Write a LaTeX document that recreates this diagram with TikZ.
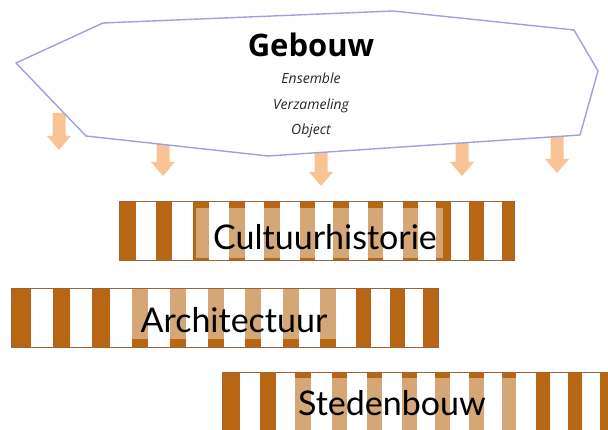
\documentclass[tikz,border=0pt]{standalone}
\usepackage{fontspec}
\setmainfont{Lato}
\newfontfamily\topfont{Open Sans}
\definecolor{stripebrown}{RGB}{184,102,20}
\definecolor{barborder}{RGB}{150,100,60}
\definecolor{peach}{RGB}{248,196,150}
\definecolor{lavender}{RGB}{160,160,225}
\definecolor{itgray}{RGB}{40,40,40}
\tikzset{
  darkstripe/.style={fill=stripebrown},
  overlaybox/.style={fill=white,fill opacity=0.42},
  barframe/.style={draw=barborder,line width=0.8pt},
  bartext/.style={anchor=base,inner sep=0pt,font=\fontsize{34}{36}\selectfont,text=black},
  hexshape/.style={draw=lavender,line width=1.4pt,fill=white,line join=round},
  downarrow/.style={fill=peach},
  titletext/.style={anchor=base,inner sep=0pt,font=\topfont\bfseries\fontsize{31}{33}\selectfont,text=black},
  subtext/.style={anchor=base,inner sep=0pt,font=\topfont\itshape\fontsize{14}{16}\selectfont,text=itgray}
}
\begin{document}
\begin{tikzpicture}[x=1pt,y=-1pt]
\clip (0,0) rectangle (608,430);
\fill[white] (0,0) rectangle (608,430);

% block arrows
\foreach \x/\yt/\yb in {59/113/150, 163/138/176, 321/146/186, 462/138/176, 557/128/173}{
  \fill[downarrow] (\x-6.5,\yt) -- (\x+6.5,\yt) -- (\x+6.5,\yb-14) -- (\x+12,\yb-14)
     -- (\x,\yb) -- (\x-12,\yb-14) -- (\x-6.5,\yb-14) -- cycle;
}

% building outline
\coordinate (p1) at (16,63);
\coordinate (p2) at (103,23);
\coordinate (p3) at (393,11);
\coordinate (p4) at (574,30);
\coordinate (p5) at (598,71);
\coordinate (p6) at (580,135);
\coordinate (p7) at (268,156);
\coordinate (p8) at (86,136);
\draw[hexshape] (p1) -- (p2) -- (p3) -- (p4) -- (p5) -- (p6) -- (p7) -- (p8) -- cycle;

\node[titletext] (gebouw) at (311,56.5) {Gebouw};
\node[subtext] (ens) at (311,84) {Ensemble};
\node[subtext] (verz) at (311,109.5) {Verzameling};
\node[subtext] (obj) at (311,135) {Object};

% Cultuurhistorie bar
\fill[white] (119,201) rectangle (514,260);
\foreach \a/\b in {119/136,156/172,193/209,229/245,264/280,300/315,333/349,368/383,403/418,436/451,469/484,502/514}
  \fill[darkstripe] (\a,201) rectangle (\b,260);
\fill[overlaybox] (196,208) rectangle (443,258);
\draw[barframe] (119,201) rectangle (514,260);
\node[bartext] (cult) at (325,250) {Cultuurhistorie};

% Architectuur bar
\fill[white] (11,288) rectangle (438,347);
\foreach \a/\b in {11/31,53/70,92/110,132/148,170/186,208/224,245/261,283/299,320/336,356/371,390/405,423/438}
  \fill[darkstripe] (\a,288) rectangle (\b,347);
\fill[overlaybox] (130,288) rectangle (338,339);
\draw[barframe] (11,288) rectangle (438,347);
\node[bartext] (arch) at (234,333) {Architectuur};

% Stedenbouw bar
\fill[white] (222,372) rectangle (612,434);
\foreach \a/\b in {222/240,260/276,295/311,332/347,367/382,402/417,435/450,469/484,502/516,536/550,568/582,600/614}
  \fill[darkstripe] (\a,372) rectangle (\b,434);
\fill[overlaybox] (293,378) rectangle (517,434);
\draw[barframe] (222,372) rectangle (612,434);
\node[bartext] (sted) at (392,415) {Stedenbouw};
\end{tikzpicture}
\end{document}
